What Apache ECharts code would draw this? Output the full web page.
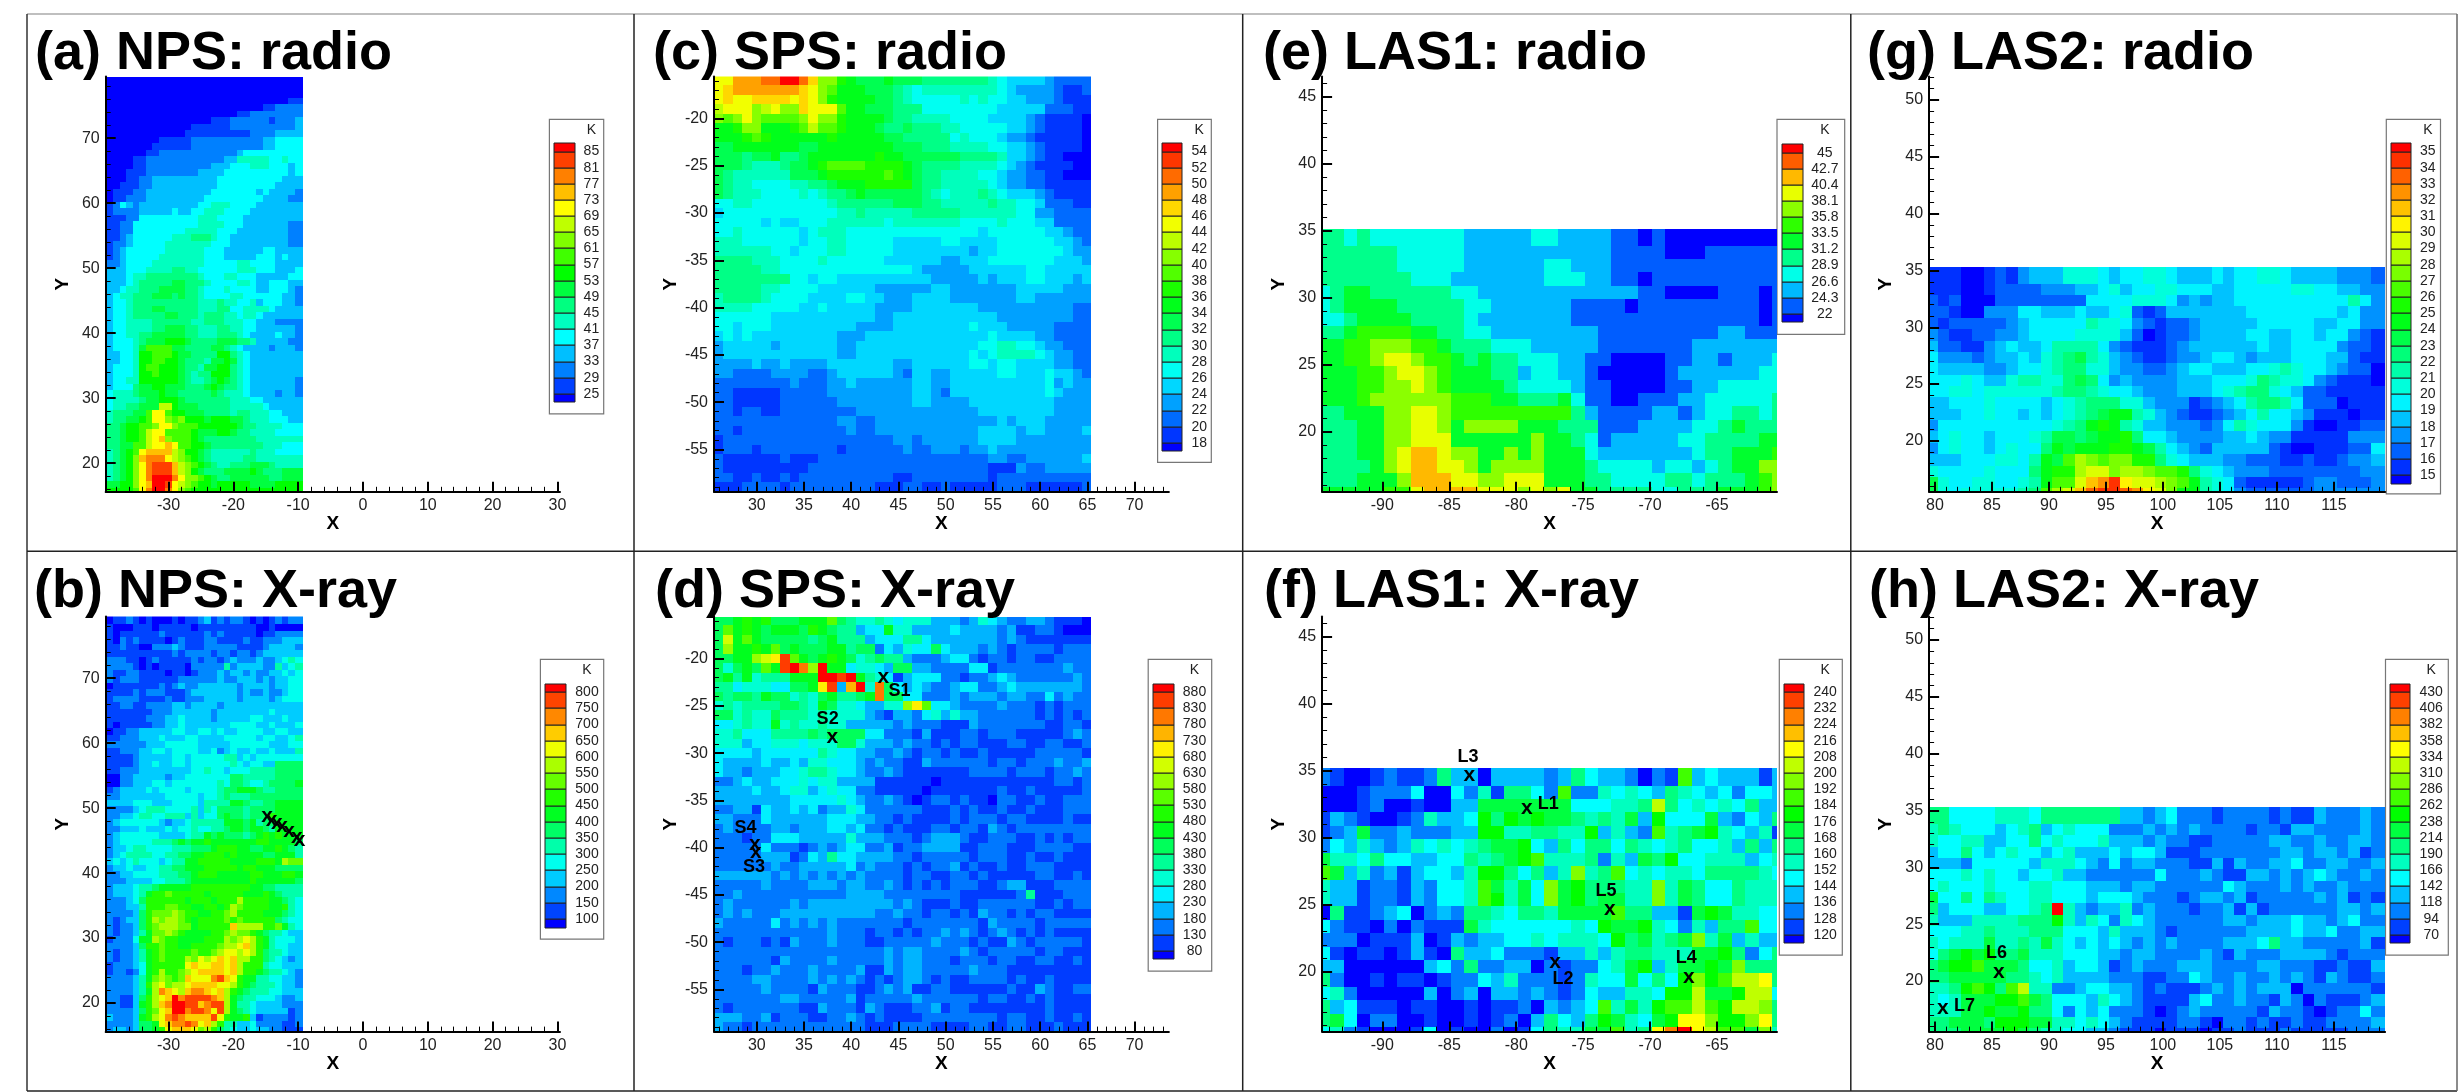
<!DOCTYPE html>
<html>
<head>
<meta charset="utf-8">
<title>NPS SPS LAS1 LAS2 radio and X-ray temperature maps</title>
<style>html,body{margin:0;padding:0;background:#fff}#chart{width:2458px;height:1092px}</style>
<script src="https://cdn.jsdelivr.net/npm/echarts@6/dist/echarts.min.js"></script>
</head>
<body>
<div id="chart"></div>
<script>
// legend levels (K), bottom to top
var levelsA = [25,29,33,37,41,45,49,53,57,61,65,69,73,77,81,85];
var levelsB = [100,150,200,250,300,350,400,450,500,550,600,650,700,750,800];
var levelsC = [18,20,22,24,26,28,30,32,34,36,38,40,42,44,46,48,50,52,54];
var levelsD = [80,130,180,230,280,330,380,430,480,530,580,630,680,730,780,830,880];
var levelsE = [22,24.3,26.6,28.9,31.2,33.5,35.8,38.1,40.4,42.7,45];
var levelsF = [120,128,136,144,152,160,168,176,184,192,200,208,216,224,232,240];
var levelsG = [15,16,17,18,19,20,21,22,23,24,25,26,27,28,29,30,31,32,33,34,35];
var levelsH = [70,94,118,142,166,190,214,238,262,286,310,334,358,382,406,430];

// tick labels
var ticksNpsX = [-30,-20,-10,0,10,20,30];
var ticksNpsY = [20,30,40,50,60,70];
var ticksSpsX = [30,35,40,45,50,55,60,65,70];
var ticksSpsY = [-55,-50,-45,-40,-35,-30,-25,-20];
var ticksLas1X = [-90,-85,-80,-75,-70,-65];
var ticksLas1Y = [20,25,30,35,40,45];
var ticksLas2X = [80,85,90,95,100,105,110,115];
var ticksLas2Y = [20,25,30,35,40,45,50];

// marked sources: [x, y]
var crossesB = [[-14.8,48.7],[-14.1,48.1],[-13.3,47.7],[-12.5,47.2],[-11.4,46.4],[-10.2,45.6],[-9.8,45]];
var crossesD = [[43.4,-22],[38,-28.3],[29.8,-39.6],[29.9,-40.45]];
var crossesF = [[-83.5,34.7],[-79.2,32.2],[-73,24.7],[-77.1,20.7],[-67.1,19.6]];
var crossesH = [[85.6,20.8],[80.7,17.6]];
var namesD = [['S1',45.1,-23.4],['S2',37.5,-26.4],['S4',28.8,-37.9],['S3',29.7,-42]];
var namesF = [['L3',-83.6,36],['L1',-77.6,32.5],['L5',-73.3,26],['L2',-76.5,19.5],['L4',-67.3,21]];
var namesH = [['L6',85.4,22.5],['L7',82.6,17.8]];

// band of each cell, top row first (0 = lowest band); spaces only for reading
var cellsA = [
'000000000000000000000000000000','000000000000000000000000000000','000000000000000000000000000000',
'000000000000000000000000000011','000000000000000000000000112222','000000000000000000001122222222',
'000000000000000011122222212223','000000000000011111122222222223','000000000000111111111122223333',
'000000001111122222222222334444','000000011111122222222222334444','000000112222222222223444444444',
'000011222222222222335555544544','000011222222222233344455544434','000111222222223333444444444434',
'000112233333333334444444444333','001112233333333334444444443333','011122333333333344444443433332',
'011222333333333444444444333322','124323333333334455544443333333','122223333343344555444433333333',
'111224444444445554444333333333','112244444444445555444333333322','112244444444555554443333333322',
'112344444455566654433333333322','122344444555555544433333333322','123444444555555444333333443333',
'123444445555555444333334443433','223444455555555444445544443333','333444555566554444445554443334',
'333455666666665444554443333344','333456666677666544445543344433','334556667777665444544443344432',
'345566677767665444455444444332','344566666666665556554453444332','344566677666665556644555543333',
'344566666776665666554554333333','344555566666655666555443332222','344555566777665556655443333332',
'344556677777665556665433334332','344456777888766667776653333322','344457999977666677654333323332',
'334458899987766668865433333333','334458899887666577875433333333','344458998887665778865433333333',
'344458898887656688865433333333','344558888887655678765433333332','344467788777666787665433333332',
'455567778776666676555433332332','455556778887666666655544333333','45566777bb87776666655555433333',
'566677 9cc98 8777666 656655544 33','566778 9cca9 a88878 887765 554443','667889 9acca 99988 88887 66555 54',
'667889 bcc99 99877 78876 65555 44','667889 bcda9 99876 66666 66555 55','667799 bccdc 99887 66666 66655 54',
'56789c ddddb a8876 55555 56555 44','5678ad eeecb a9876 55555 66555 55','5678ac efffd ba987 65566 67776 55',
'5678ac efffd ba876 66777 78766 67','5678ac eggge caa98 76677 77776 67','7788ac dggfc ba988 78888 87777 88','8888 9ceggec a9888 88888 88888 88888'
];
var cellsB = [
'011210100010112312122101012122','100011101111101111111110010000','101111112111111212111110112222',
'102121111012111221111211222333','112110022232111222221111233332','111111111121222212212212333333',
'222110121111121221232223223454','222210101111022222523333225345','211221111011012223233232233434',
'212221111112222223223332323344','011111112123223333332333323344','111121222111233333332322322344',
'122221111211222333332333323444','112211222233233332333333333333','111111122233333323333333343333',
'111111222334333323333344333433','101111122334333333344443343334','011223333344334434334444334433',
'112223334333443333444443443345','222222333444443333344444433344','112223344344443342343343343335',
'111123333344344444553434444444','111123343344344444454344336666','112223333333344544344455556666',
'002233333233444444466555556666','002233344344444445466544566667','123333434444344445667776556666',
'223333333444443445655566666666','333344433344443555577655667777','222234555444453546666566667777',
'223345544555353446766566687777','234444443233455555777675667777','223334333434454455677677657777',
'234444443333455767666567878777','234444455567677877777778877776','233455444455566678887766778765',
'234555544556677888787777667775','34345444345577888887777888 7a99','233433445566777888887887776666',
'223344445556678887777788777887','222333344555677777777787777776','23334 55677 77788 88888 88776 65555',
'23334 57889 88888 78888 87778 76555','22234 68888 88788 87888 a8888 77654',
'22233 58889 98877 8878a 98888 77854','22223 68999 a9887 7889a 88887 77654','21233 68a9a a9878 88898 98888 86544','21223 689aa a9978 8888c aaaa8 89754',
'21223 5799a 98777 7889a 99876 55433','12224 77a98 87777 888a9 aba87 54443','22223 68898 87788 889aa bca87 54433','21223 57898 88898 89abb aba86 55433',
'21223 57898 88a9b abcbc aa886 54323','12223 47888 88bcb bccbc a8885 44333','12212 478a8 89abc cccbc a8876 55432','22223 579a9 89cbb bdecb 87755 44332',
'22223 58ab9 aabcc ccbba 87655 54332','22223 57adc bacdd cbca8 76555 44333','22113 68abc fdeee edca7 65544 43223','22113 78acd ffeec deea7 55433 33222',
'22223 689bc ffdee dbea7 65433 33312','32223 78abd edccc ceb87 78312 22212','22223 667bc ddedb ca855 33422 22112','23323 6678b cccb9 a8654 33433 22111'
];
var cellsC = [
'eeggg hhjjh fcca9 88898 88777 77776 54444 32222','efggg ggggf ecb99 98887 65666 66666 54333 32112','efeef fffef eca99 99887 65555 56565 54433 32111',
'deeec deccf eeeb9 98887 77555 55555 44444 22211','cbcec bbbbc ecca9 99987 76666 55554 44432 11110','99acc 999ab dbba9 99877 87776 65555 54432 11110',
'999ab a9999 99a99 99988 77777 56555 43321 11110','88999 99998 89999 99998 88777 66665 54432 11110','88878 89778 99999 99a99 88888 87777 64432 11000',
'88876 66788 9abbb baaaa 98777 76666 54321 11100','87666 66688 89aaa aaaba 98776 66655 43322 11000','87665 55566 77899 9aaaa a8776 66665 43322 11111',
'87666 55556 56778 98888 88765 66676 54443 21111','55665 55555 55677 77778 88776 66667 66554 22211','45555 55555 55566 76666 67777 76666 66553 32222',
'55555 45445 55666 66656 66666 65555 65554 42222','55655 55554 56665 55555 55555 55545 55555 44322','66655 55554 55665 55554 44445 54444 55555 54432',
'66666 65545 55665 55554 44444 44344 55555 55433','77776 66555 56555 55544 44443 34445 55555 54443','77777 66555 55555 55555 54333 33444 44455 44444',
'77777 77755 45544 44444 44433 33343 44455 44434','77777 66555 54444 44333 33344 33333 33444 44333','67777 65555 44445 54433 34444 33333 33443 33333',
'66665 55554 45444 44333 34444 44433 33333 33322','55555 54444 44444 44334 44444 44444 33333 33322','55455 54444 44444 33334 44444 44544 43333 32222',
'45454 44444 44433 34444 44444 44445 44443 32222','34444 43444 44433 44444 44444 44455 66554 33222','34444 44444 44433 44444 44444 44545 66665 43322',
'33334 33433 33444 44443 34444 44554 55444 43322','33222 23333 22344 44443 24433 44444 55444 54432','22222 22232 22334 33333 34433 44444 44444 53433',
'22111 11222 22333 33333 34432 44444 44444 54333','22111 11222 22233 33333 34433 33444 44444 43333','22122 11222 22222 33333 33333 33344 44444 43333',
'22222 22222 22233 22333 33333 33333 43444 33333','22122 22222 22223 22333 33333 33344 44344 33334','12222 22222 22222 22223 32333 33344 44333 33333',
'12221 22222 22212 22222 32233 32334 33333 33333','21111 11211 12222 22222 22222 22223 32233 33334','21111 11111 22222 22222 22222 22221 11322 33333',
'22112 11212 22222 22221 12222 22221 22222 22222','11122 22122 22222 22111 22112 11111 22211 11112'
];
var cellsD = [
'7 7 8 9 8 9 7 7 7 8 8 8 a 7 6 5 5 6 5 4 5 5 5 3 3 3 2 3 5 4 3 2 2 3 3 2 1 1 1 0','7 a 8 9 8 7 8 8 8 7 9 8 7 6 6 3 4 4 8 5 5 3 3 3 3 4 3 3 3 3 2 3 1 1 2 2 1 0 0 0',
'7 c 8 a 8 7 7 7 7 7 6 7 8 6 6 6 3 4 4 4 6 6 4 3 3 3 3 3 3 3 2 3 2 1 1 1 1 1 1 1','7 b 8 8 9 8 a 7 8 7 7 7 8 8 6 7 7 2 4 3 5 4 4 7 4 3 3 3 2 3 2 1 2 2 2 2 1 2 2 2',
'7 7 8 8 b c d g a 8 7 8 9 8 7 5 6 7 6 6 3 2 2 2 3 4 4 2 1 2 2 1 2 2 1 1 2 2 2 2','7 5 7 8 7 a 8 g h f b h 8 8 4 5 5 4 3 7 7 3 3 2 2 2 2 4 4 1 2 2 2 2 2 2 2 3 2 2',
'7 8 6 8 5 6 6 6 8 8 8 h h g h 8 6 5 4 1 3 4 4 4 2 2 1 2 2 3 4 3 2 2 2 2 2 2 3 2','6 6 4 5 5 5 4 4 7 7 8 d g 3 e h 5 f 7 4 3 4 3 2 2 3 4 4 2 2 3 4 3 3 3 3 3 3 3 2',
'7 6 7 7 6 8 7 7 5 6 5 7 8 6 6 7 8 f 7 7 4 4 2 2 2 3 2 3 3 3 2 3 3 2 2 4 2 3 2 2','5 6 5 6 6 6 6 7 7 6 5 8 7 5 5 4 3 3 5 5 b d a 4 4 3 2 2 2 2 3 2 2 2 1 2 1 2 2 2',
'7 7 5 6 5 5 7 6 6 6 5 6 5 5 5 5 3 2 1 3 3 2 4 5 3 5 3 3 2 2 2 2 2 2 1 2 1 2 1 2','4 4 5 6 5 5 8 5 6 5 5 6 5 5 3 3 3 3 3 2 3 2 2 2 1 1 1 3 2 2 2 2 2 2 2 1 1 2 2 1',
'5 5 6 4 4 4 6 6 6 6 7 6 7 7 7 7 4 4 2 2 2 1 3 1 1 1 2 2 1 2 2 2 1 1 1 1 1 2 3 2','5 5 5 3 4 4 5 5 5 4 5 5 5 7 7 5 3 3 3 2 3 2 2 1 2 1 2 2 1 1 1 2 2 1 1 2 2 1 1 2',
'4 4 4 4 3 4 4 4 4 4 4 6 5 4 4 3 3 2 2 3 2 1 2 2 1 2 1 1 2 1 1 1 1 1 2 2 2 2 2 1','4 3 3 3 3 4 3 3 4 3 5 5 4 4 4 3 2 3 2 2 1 1 3 2 2 2 2 2 2 1 2 2 1 2 2 2 3 2 2 3',
'4 3 3 2 3 3 3 4 4 5 6 6 5 4 4 3 2 2 3 2 1 1 1 1 1 1 1 2 2 2 2 1 2 2 2 1 2 2 3 2','2 2 3 4 3 3 4 4 4 5 4 5 5 3 3 3 3 1 1 1 1 1 1 0 1 1 1 1 1 1 1 1 1 1 1 1 2 2 1 2',
'3 3 3 3 4 3 3 4 5 5 3 4 5 4 4 2 2 1 1 1 1 1 0 1 1 1 1 1 1 1 2 1 1 2 1 1 1 1 1 2','3 3 3 3 3 3 3 3 4 4 4 4 4 5 4 3 2 2 3 2 1 0 1 2 2 1 2 1 1 0 2 2 1 1 2 1 1 2 2 2',
'2 2 3 3 1 4 3 3 4 3 4 2 3 3 5 4 2 2 2 2 2 2 1 1 1 2 1 2 1 1 2 1 1 2 1 1 1 2 2 2','3 3 2 2 2 4 3 3 3 3 3 3 4 4 4 3 3 2 2 1 2 1 1 1 1 2 1 2 2 2 1 2 2 1 1 1 1 2 1 1',
'2 3 2 2 2 2 3 3 2 3 3 3 4 4 3 4 2 2 1 2 1 1 1 2 2 1 2 2 1 3 2 1 2 2 2 2 2 2 2 2','2 2 2 1 2 2 4 4 4 3 3 3 3 3 5 3 3 3 2 2 2 1 2 3 3 3 2 1 1 2 2 2 1 1 2 1 2 1 2 2',
'2 2 2 2 2 4 2 2 2 1 2 3 2 3 4 4 2 2 3 1 2 2 3 3 3 3 1 1 2 2 2 1 1 1 2 2 2 2 1 1','2 2 2 2 2 3 3 3 1 2 4 3 6 4 4 3 3 3 3 2 2 1 2 2 2 2 2 1 2 2 2 1 1 2 1 1 2 1 1 1',
'2 2 2 2 2 2 3 2 2 3 3 3 3 3 4 2 3 2 2 2 1 2 1 2 2 3 1 2 1 1 2 1 1 2 2 2 1 1 1 1','3 3 3 3 3 3 2 3 2 3 2 3 2 3 2 3 2 2 2 2 1 2 2 1 1 2 2 1 2 1 1 1 1 1 2 2 1 1 2 1',
'2 2 2 2 2 3 2 2 2 2 3 3 3 2 3 3 2 2 3 2 1 2 1 2 1 2 2 2 1 1 2 3 3 1 1 1 2 2 2 2','2 2 3 2 2 2 2 2 2 2 2 2 2 2 3 3 3 3 2 2 2 2 2 2 2 2 1 1 1 1 1 1 2 6 1 1 1 2 2 2',
'2 3 2 2 2 2 2 2 3 2 3 3 3 3 3 3 3 3 3 2 3 2 1 1 1 2 1 1 2 2 2 2 2 2 1 1 2 1 2 2','2 3 2 3 2 2 2 3 3 3 3 3 3 3 3 3 3 2 2 3 2 2 1 2 2 1 2 1 3 2 2 1 2 1 2 2 1 1 1 1',
'3 2 2 2 2 2 4 2 3 2 3 2 3 2 2 2 2 2 2 2 1 2 2 2 2 2 2 2 1 3 2 2 2 2 1 2 2 2 2 2','2 2 2 2 2 2 2 2 2 2 2 2 3 2 2 2 1 2 2 1 2 1 2 2 3 2 3 2 1 2 3 2 1 2 1 2 1 1 1 1',
'2 1 2 2 2 1 2 1 3 2 2 2 3 2 2 2 1 1 2 2 2 2 2 3 2 2 2 1 2 1 1 3 2 1 2 2 2 2 2 1','2 2 2 2 2 2 2 2 2 2 2 2 2 2 2 2 2 2 3 2 3 3 2 2 2 2 3 2 1 2 2 2 2 2 1 2 2 1 1 1',
'2 2 2 2 2 2 1 3 2 2 2 2 3 2 2 2 2 2 3 2 3 3 2 2 2 1 2 2 2 1 2 2 1 1 2 2 1 1 2 1','2 2 2 1 2 2 3 2 2 2 3 2 2 2 2 3 1 1 3 2 3 3 2 2 2 2 2 3 2 2 2 1 1 1 1 1 1 1 1 1',
'2 2 2 2 3 3 2 2 2 2 3 2 3 2 3 2 1 2 1 2 3 3 2 1 2 1 1 2 2 2 2 1 2 1 1 2 1 1 1 1','2 2 2 2 2 3 2 2 2 2 1 3 2 2 2 1 1 2 3 2 3 1 1 2 2 1 1 1 1 1 1 2 1 1 3 2 1 1 2 2',
'2 2 2 2 2 2 2 3 3 2 2 2 2 2 3 1 2 2 2 2 2 3 2 2 2 2 2 2 1 2 2 1 1 2 1 2 1 1 1 1','2 1 2 2 2 2 2 2 2 1 1 3 2 2 2 1 3 2 1 1 1 2 2 3 1 2 2 1 1 1 1 1 1 1 1 2 1 1 1 1',
'3 3 3 2 2 3 1 2 2 2 1 1 2 2 3 2 1 2 1 1 1 1 2 2 2 2 2 2 2 2 1 2 2 1 1 2 1 1 2 1','3 2 2 1 2 2 2 2 2 2 2 2 2 2 2 2 1 1 1 2 2 2 2 1 1 1 1 2 2 1 1 2 2 1 1 1 2 1 1 1'
];
var cellsE = [
'44343333333222223322221101000000000','44444433333222222222221111000111111','44444433333222222332221111111111111',
'44444443332222222333221101111111111','34554444443322222222222211000011101','34555544444332222221111011111111101',
'33455554444322222221111111111111101','44566665544332222222211111111122111','55 66 777 66 5 444 333 22222 1111111 2222222',
'55 66 7 88 7 66 5 4 5 44 333 22 11 0000 11 22 1 222 3','555 66 7 88 7 6 555 44 2 33 22 1 00000 1 222222 33','55566778765555433332110000112233333',
'555 6 777777 666 55 444 5 3 11 00 111 22 33333 4','44 55 5 77 88 7 666666666 4 2 1111 22 1 2 33 44 3 4','44455778875777755544411122223345444',
'444 55 77 888 555555 7 5 5 4 3 1 22222 33 4444 55','444 55 7 8 99 8 77 55 7 5 7 5 55 3 2222222 3 44 555 6','4444 5 7 8 99 88 7 5 7777 5 55 4 3333 2 33 2 3 4 55 77',
'444 55 5 7 999 88 77 888 5 55 44 3333 44 3 4445 6 77','55555 66 8 9999 888 7 8 7 8 55 4444 33 444 555 6 77'
];
var cellsF = [
'21001 21126 33033 33236 43320 21934 33313','00012 22400 42516 64292 25454 36543 42443','00012 00100 33777 77774 44556 b6454 54633',
'13210 01253 34868 78776 56573 84447 32436','12372 23222 33885 56655 83532 95678 54351','24353 23545 45677 84364 66465 45644 53636',
'75546 44334 46567 89555 62537 68445 55345','97352 31344 35886 4635a 56945 45546 66654','53312 21324 45975 74a78 66655 a5764 46555',
'5 3 3 1 2 2 1 3 2 4 4 5 9 8 5 7 4 a 7 8 6 7 7 5 5 a 5 7 6 4 4 6 5 5 5','0 6 1 1 2 3 4 0 2 3 2 6 6 5 4 6 6 5 7 7 7 7 9 6 6 3 3 1 7 8 7 5 5 4 4','4 2 1 1 0 2 0 2 1 1 1 7 5 4 4 4 4 4 4 5 4 8 7 7 8 5 4 2 5 3 6 6 9 4 4',
'2 2 2 0 1 1 1 3 0 1 3 2 3 3 4 4 5 4 5 5 5 4 8 6 7 5 6 7 a 5 7 3 5 3 3','4 1 0 1 1 0 1 3 1 0 6 3 3 4 2 2 2 1 3 3 5 3 5 6 6 5 5 5 7 7 8 6 2 4 6','3 3 0 0 0 0 0 0 3 4 2 6 2 2 3 3 0 2 1 2 2 4 5 7 8 3 5 7 7 8 7 a 6 6 6',
'6 2 0 0 1 0 1 1 0 1 2 2 4 3 5 2 2 2 1 2 5 4 4 7 4 6 4 8 a 8 9 b b c 6','4 5 2 0 0 0 0 0 3 0 2 3 0 3 3 2 3 2 1 2 4 3 3 5 5 4 8 8 b 7 7 8 b b 4','6 3 4 1 1 1 0 1 1 0 0 1 0 1 1 2 0 3 2 3 4 9 5 7 5 8 9 9 b 9 8 b b a 6',
'6 7 4 0 2 2 0 0 1 0 0 1 0 1 2 0 3 6 4 3 6 8 7 5 4 7 8 c c a 8 8 a c 6','4 5 2 1 0 0 0 1 4 0 1 0 0 2 0 1 4 6 5 5 7 7 9 5 6 c e g c b 9 9 7 a 5'
];
var cellsG = [
'111 00 1 2 1 3 444 666 5 4 55 66 5 444 5 4 55 66 5 4444 333 2','1 1 1 0 0 1 2 2 2 2 3 3 3 4 4 5 6 4 5 5 6 6 5 5 5 4 4 5 5 5 5 5 6 6 5 5 4 4 3 3','2 1 2 0 0 0 2 2 2 2 2 2 2 2 5 5 5 5 6 6 6 5 3 4 3 4 4 5 5 5 5 5 5 5 5 5 5 7 5 3',
'2 2 1 0 0 3 3 3 5 5 4 4 4 5 4 4 5 6 2 1 2 4 4 4 4 4 4 4 5 5 5 5 5 5 5 5 4 5 3 3','2 1 2 2 2 2 2 3 4 5 5 5 5 5 7 6 6 5 3 2 1 2 2 3 4 4 4 4 4 5 5 5 5 5 4 4 5 5 3 3','3 2 1 1 2 2 3 3 4 5 5 5 5 6 6 6 6 4 2 0 1 2 2 3 4 4 4 4 5 5 4 4 5 5 4 5 5 3 2 1',
'4 2 2 1 1 3 4 5 4 4 5 7 7 7 7 5 3 2 1 1 1 2 3 4 4 4 4 4 4 5 4 4 5 5 5 5 3 2 2 1','5 3 3 3 2 3 4 4 5 4 6 7 8 9 7 6 4 3 2 1 1 2 3 3 4 5 5 4 3 4 4 4 5 5 5 4 4 2 1 1','5 4 4 4 4 3 3 4 5 5 6 7 8 8 6 6 4 3 3 2 2 3 4 5 5 4 4 4 5 5 6 7 6 5 5 4 3 2 2 0',
'5 5 5 6 5 4 4 6 7 7 6 6 8 9 8 5 3 4 3 3 3 3 4 4 4 5 5 5 6 8 7 6 6 5 3 2 1 1 1 0','5 5 6 6 5 6 6 6 6 6 6 7 8 8 7 6 5 5 4 3 3 3 4 4 4 5 6 7 8 8 6 5 4 2 2 1 1 1 1 1','4 4 5 5 5 6 5 5 5 5 4 5 6 7 8 8 8 6 6 4 3 3 3 1 2 3 4 5 7 8 8 7 5 2 2 2 0 1 1 1',
'4 4 4 5 5 6 5 5 4 5 4 5 6 7 8 9 a a 7 6 4 3 2 1 1 2 3 4 5 7 5 5 4 3 1 1 1 0 1 1','3 5 5 5 5 5 5 5 5 5 5 6 7 8 a b a 7 6 4 4 3 3 3 2 3 5 7 6 5 5 5 3 1 0 0 1 1 2 2','4 5 6 5 5 4 5 5 5 6 7 9 9 8 9 a a b 8 5 5 4 3 3 3 3 4 4 5 4 3 3 1 1 1 1 1 3 3 3',
'3 5 6 5 5 4 5 6 5 5 8 a 9 a a a b b a 9 7 5 4 3 2 4 4 4 4 4 2 1 0 0 1 1 1 2 2 5','4 4 4 5 5 5 6 6 5 7 a 9 c e d c d d b b 8 6 5 4 4 4 3 3 2 2 2 1 1 2 1 1 2 3 3 4','6 5 5 5 5 6 5 5 5 8 a b b e f f d e e d c c b 8 6 5 4 3 3 3 2 2 2 2 2 2 2 2 3 3',
'9 6 5 5 6 6 5 5 6 7 a c c f h i k g f f e d c a 7 6 5 2 1 1 1 1 1 2 3 3 2 2 2 3','9 6 5 6 6 6 6 6 7 8 c e f h j k k j i g f d a a 7 6 5 3 2 2 2 2 2 2 3 3 3 3 3 3'
];
var cellsH = [
'6 6 4 4 4 4 5 5 5 4 6 6 6 6 6 6 6 3 3 2 3 4 2 2 2 1 2 2 2 2 1 2 1 1 3 2 2 2 3 2','5 6 5 4 4 4 3 4 5 6 3 4 5 4 4 4 2 2 2 3 2 3 2 3 2 2 2 2 1 2 2 1 3 3 2 2 2 2 3 2',
'5 4 4 5 5 3 3 4 4 6 4 5 4 4 4 5 3 3 3 2 3 2 2 1 1 2 2 2 2 2 3 3 2 2 3 2 2 3 3 2','3 4 4 6 4 3 4 5 4 4 3 4 5 3 3 3 4 3 4 4 3 1 1 1 2 2 2 2 2 2 2 3 3 2 3 3 2 3 1 2',
'3 3 3 2 4 4 4 4 4 3 5 5 5 4 3 2 4 2 3 3 2 2 2 1 1 3 1 3 2 2 3 3 4 2 2 3 3 2 2 3','4 4 4 5 4 5 4 4 3 4 4 5 3 3 2 2 2 2 2 2 4 2 2 2 3 2 1 1 3 3 2 3 2 3 4 3 2 2 3 2',
'4 5 4 4 4 5 4 4 4 5 5 4 4 4 3 3 3 2 3 3 2 2 2 2 2 2 4 3 2 2 2 3 2 3 2 2 3 2 2 2','7 4 4 6 4 6 5 4 4 5 5 4 4 4 3 4 4 4 3 2 2 2 1 2 3 3 2 3 1 2 2 2 2 2 3 2 3 1 2 1',
'6 3 4 4 4 3 3 4 4 5 6 g 5 3 2 3 3 5 2 3 2 2 2 1 2 2 3 1 3 1 2 2 2 2 2 2 3 3 2 3','5 3 3 3 5 5 5 5 6 6 6 8 5 3 5 4 2 5 4 3 2 2 2 2 2 2 3 3 2 3 3 3 4 3 3 2 3 4 2 2',
'4 4 4 5 5 6 5 5 5 6 6 6 4 4 4 3 5 3 3 3 2 1 2 2 2 2 2 2 3 3 3 3 4 3 3 4 2 2 3 3','5 4 5 5 5 7 5 5 6 5 7 5 4 3 4 3 4 3 2 3 2 3 2 2 2 2 3 3 3 4 6 3 3 2 2 2 2 2 3 1',
'4 6 7 8 7 8 6 6 7 5 5 5 4 4 4 3 3 2 3 3 2 2 2 2 3 2 1 3 2 2 2 3 3 3 3 2 1 2 2 2','6 7 8 8 9 7 7 7 6 4 4 5 3 4 4 3 1 2 3 2 2 2 3 3 3 2 2 2 2 3 3 2 2 2 1 1 2 1 1 3',
'6 6 7 7 7 7 7 6 6 5 4 5 3 3 3 3 2 2 2 1 1 2 2 4 3 2 2 3 2 2 3 2 3 2 1 3 2 1 1 2','5 5 6 8 9 8 6 9 b 5 5 2 2 3 4 4 3 3 2 1 2 1 1 1 2 3 2 3 2 3 3 3 0 2 2 2 2 2 2 1',
'5 4 5 7 7 7 8 8 9 7 6 4 4 4 3 5 4 3 2 1 1 1 1 3 4 2 2 3 2 2 1 3 2 0 2 1 1 1 2 3','5 5 5 7 7 8 7 7 8 6 6 4 2 4 3 4 2 2 2 1 0 1 2 3 2 2 2 2 2 1 3 2 2 1 0 1 2 2 4 2',
'6 6 7 7 7 6 8 8 8 7 7 5 5 4 5 4 3 2 1 1 1 1 2 2 1 0 2 2 1 2 1 1 2 1 1 2 2 2 2 3','6 6 6 7 7 7 7 8 7 6 5 5 4 4 3 3 2 1 1 1 0 1 1 1 0 1 1 2 1 1 1 2 1 1 1 1 1 2 2 2'
];

var bandStops = [[0,0,0,255],[0.25,0,255,255],[0.5,0,255,0],[0.75,255,255,0],[1,255,0,0]];
var bandChars = '0123456789abcdefghijkl';

// 每个面板的位置和坐标范围
var panels = [
 {title:'(a) NPS: radio',titleX:35,titleY:27,left:105.7,top:76.5,width:454.3,height:415.3,xMin:-39.7,xMax:30.4,yMin:15.6,yMax:79.5,xEdge:-38.5,yEdge:16.22,right:-9.3,ceil:79.5,cols:30,cells:cellsA,levels:levelsA,xTicks:ticksNpsX,yTicks:ticksNpsY,xMinor:2,yMinor:2,legend:[549.4,119.3,603.7,413.9,553.5,143.1,574.7,402,151.5,393.9,591.4]},
 {title:'(b) NPS: X-ray',titleX:34,titleY:565,left:105.7,top:616.5,width:454.3,height:415.1,xMin:-39.7,xMax:30.4,yMin:15.6,yMax:79.5,xEdge:-38.5,yEdge:16.3,right:-9.3,ceil:79.5,cols:30,cells:cellsB,levels:levelsB,xTicks:ticksNpsX,yTicks:ticksNpsY,xMinor:2,yMinor:2,crosses:crossesB,legend:[540.4,659.4,603.7,939.1,545.3,684.2,565.7,927.6,692.2,918.9,587]},
 {title:'(c) SPS: radio',titleX:653,titleY:27,left:714,top:76.5,width:454.9,height:415.3,xMin:25.47,xMax:73.63,yMin:-59.49,yMax:-15.55,xEdge:26.47,yEdge:-58.49,right:65.35,ceil:-15.55,cols:40,cells:cellsC,levels:levelsC,xTicks:ticksSpsX,yTicks:ticksSpsY,xMinor:1,yMinor:1,legend:[1157.6,119.3,1211.3,462.3,1161.5,143.1,1182,451,151.5,443,1199.2]},
 {title:'(d) SPS: X-ray',titleX:655,titleY:565,left:714,top:616.5,width:454.9,height:415.1,xMin:25.47,xMax:73.63,yMin:-59.47,yMax:-15.53,xEdge:26.47,yEdge:-58.47,right:65.35,ceil:-15.53,cols:40,cells:cellsD,levels:levelsD,xTicks:ticksSpsX,yTicks:ticksSpsY,xMinor:1,yMinor:1,crosses:crossesD,names:namesD,legend:[1148.2,659.4,1211.7,971.2,1153.3,684.2,1173.5,959.4,692.2,951,1194.5]},
 {title:'(e) LAS1: radio',titleX:1263,titleY:27,left:1322.1,top:76.5,width:454.9,height:415.3,xMin:-94.5,xMax:-60.52,yMin:15.52,yMax:46.5,xEdge:-93.89,yEdge:15.89,right:-60.52,ceil:35.1,cols:35,cells:cellsE,levels:levelsE,xTicks:ticksLas1X,yTicks:ticksLas1Y,xMinor:1,yMinor:1,legend:[1777,119.3,1844.7,334.3,1782.4,144.2,1802.6,322.3,152.9,313.9,1824.8]},
 {title:'(f) LAS1: X-ray',titleX:1264,titleY:565,left:1322.1,top:616.5,width:454.9,height:415.1,xMin:-94.5,xMax:-60.52,yMin:15.55,yMax:46.5,xEdge:-93.89,yEdge:15.89,right:-60.52,ceil:35.2,cols:35,cells:cellsF,levels:levelsF,xTicks:ticksLas1X,yTicks:ticksLas1Y,xMinor:1,yMinor:1,crosses:crossesF,names:namesF,legend:[1779.3,659.4,1842.3,955.2,1784,684.2,1804.2,942.6,692.2,935,1825.2]},
 {title:'(g) LAS2: radio',titleX:1867,titleY:27,left:1929.1,top:76.5,width:456,height:415.3,xMin:79.49,xMax:119.49,yMin:15.52,yMax:52.07,xEdge:80.27,yEdge:15.83,right:119.49,ceil:35.28,cols:40,cells:cellsG,levels:levelsG,xTicks:ticksLas2X,yTicks:ticksLas2Y,xMinor:1,yMinor:1,legend:[2386.3,119.3,2440.5,493.9,2390.5,143.1,2411,483.7,151.5,475.3,2427.8]},
 {title:'(h) LAS2: X-ray',titleX:1869,titleY:565,left:1929.1,top:616.5,width:456,height:415.1,xMin:79.49,xMax:119.49,yMin:15.55,yMax:52.07,xEdge:80.27,yEdge:15.83,right:119.49,ceil:35.28,cols:40,cells:cellsH,levels:levelsH,xTicks:ticksLas2X,yTicks:ticksLas2Y,xMinor:1,yMinor:1,crosses:crossesH,names:namesH,legend:[2385.5,659.4,2448.3,955.2,2389.8,684.2,2410,942.6,692.2,935,2431.2]}
];

var FONT = '"Liberation Sans",Arial,sans-serif';

//色带:蓝-青-绿-黄-红
var bandColor = function(i, count){
	var t = count > 1 ? i/(count - 1) : 0;
	for(var s = 1; s < bandStops.length; s++){
		if(t <= bandStops[s][0] + 1e-9){
			var a = bandStops[s-1], b = bandStops[s];
			var f = (t - a[0])/(b[0] - a[0]);
			return 'rgb(' + Math.round(a[1] + (b[1]-a[1])*f) + ',' + Math.round(a[2] + (b[2]-a[2])*f) + ',' + Math.round(a[3] + (b[3]-a[3])*f) + ')';
		}
	}
	return 'rgb(255,0,0)';
};

var minorTicks = function(lo, hi, step){
	var out = [];
	for(var v = Math.ceil(lo/step)*step; v <= hi; v += step){ out.push(v); }
	return out;
};

// band letter -> kelvin in the middle of that band
var bandValue = function(levels, band){
	var step = levels[1] - levels[0];
	return levels[0] + (band - 0.5)*step;
};

var bandOf = function(levels, v){
	var step = levels[1] - levels[0];
	return Math.max(0, Math.min(levels.length, Math.round((v - levels[0])/step + 0.5)));
};

// 每个格子的范围: 第一行/列被坐标轴截断, 最后一行/列到数据边界
var buildCells = function(p){
	var out = [], rows = p.cells, n = rows.length, m = p.cols;
	for(var j = 0; j < n; j++){
		var row = rows[j].replace(/ /g, '');
		var jb = n - 1 - j;
		var y0 = jb === 0 ? p.yMin : p.yEdge + jb - 1;
		var y1 = jb === n - 1 ? p.ceil : p.yEdge + jb;
		for(var k = 0; k < m; k++){
			var ch = row.charAt(k) || row.charAt(row.length - 1);
			var x0 = k === 0 ? p.xMin : p.xEdge + k - 1;
			var x1 = k === m - 1 ? p.right : p.xEdge + k;
			out.push([x0, x1, y0, y1, bandValue(p.levels, bandChars.indexOf(ch))]);
		}
	}
	return out;
};

var rectItem = function(api, color, stroke){
	var a = api.coord([api.value(0), api.value(3)]);
	var b = api.coord([api.value(1), api.value(2)]);
	var x = Math.round(a[0]), y = Math.round(a[1]);
	var style = {fill:color};
	if(stroke){ style.stroke = stroke; style.lineWidth = 1; }
	return {type:'rect', shape:{x:x, y:y, width:Math.round(b[0]) - x, height:Math.round(b[1]) - y}, style:style, silent:true};
};

var axisFor = function(idx, kind, p, ticks, minor){
	var isX = kind === 'x';
	var base = {
		type:'value', gridIndex:idx, position:isX ? 'bottom' : 'left', z:6, silent:true,
		min:isX ? p.xMin : p.yMin, max:isX ? p.xMax : p.yMax, splitLine:{show:false}
	};
	var major = Object.assign({}, base, {
		name:isX ? 'X' : 'Y', nameLocation:'center', nameGap:isX ? 28 : 43,
		nameTextStyle:{fontFamily:FONT, fontSize:19, fontWeight:'bold', color:'#000', verticalAlign:'middle'},
		axisLine:{show:true, onZero:false, lineStyle:{color:'#000', width:2}},
		axisTick:{show:true, inside:true, length:10, customValues:ticks, lineStyle:{color:'#000', width:2}},
		axisLabel:{show:true, customValues:ticks, margin:6, fontFamily:FONT, fontSize:16, color:'#222', hideOverlap:false}
	});
	var small = Object.assign({}, base, {
		axisLine:{show:false, onZero:false},
		axisTick:{show:true, inside:true, length:5, customValues:minor, lineStyle:{color:'#000', width:1}},
		axisLabel:{show:false}
	});
	return [major, small];
};

var option = {
	animation:false, backgroundColor:'#fff',
	title:[], grid:[], xAxis:[], yAxis:[], series:[], graphic:[]
};

var pushLine = function(x1, y1, x2, y2, color){
	option.graphic.push({type:'line', z:1, silent:true, shape:{x1:x1, y1:y1, x2:x2, y2:y2}, style:{stroke:color, lineWidth:1.5}});
};
pushLine(27,14,2457,14,'#aaa');
pushLine(27,14,27,1091,'#333');
pushLine(27,551.3,2457,551.3,'#222');
pushLine(27,1091,2457,1091,'#222');
pushLine(634,14,634,1091,'#222');
pushLine(1242.7,14,1242.7,1091,'#222');
pushLine(1850.8,14,1850.8,1091,'#222');
pushLine(2457,14,2457,1091,'#666');

// 隐藏符号,只显示文字
var textPoints = function(xi, yi, data, formatter, size){
	return {
		type:'scatter', xAxisIndex:xi, yAxisIndex:yi, silent:true, z:7, data:data,
		symbol:'circle', symbolSize:1, itemStyle:{opacity:0},
		labelLayout:{hideOverlap:false},
		label:{show:true, position:'inside', formatter:formatter, fontFamily:FONT, fontSize:size, fontWeight:'bold', color:'#000', opacity:1}
	};
};

panels.forEach(function(p, i){
	var g = option.grid.length;
	option.title.push({text:p.title, left:p.titleX, top:p.titleY, padding:0, z:8,
		textStyle:{fontFamily:FONT, fontSize:54, fontWeight:'bold', color:'#000'}});
	option.grid.push({left:p.left, top:p.top, width:p.width, height:p.height, show:false});
	var xMinor = minorTicks(p.xMin, p.xMax, p.xMinor), yMinor = minorTicks(p.yMin, p.yMax, p.yMinor);
	var xa = axisFor(g, 'x', p, p.xTicks, xMinor), ya = axisFor(g, 'y', p, p.yTicks, yMinor);
	var xi = option.xAxis.length, yi = option.yAxis.length;
	option.xAxis.push(xa[0], xa[1]);
	option.yAxis.push(ya[0], ya[1]);
	var count = p.levels.length + 1;
	option.series.push({
		type:'custom', xAxisIndex:xi, yAxisIndex:yi, clip:true, silent:true, z:2,
		encode:{x:[0,1], y:[2,3]}, data:buildCells(p),
		renderItem:function(params, api){
			return rectItem(api, bandColor(bandOf(p.levels, api.value(4)), count));
		}
	});
	if(p.crosses){
		option.series.push(textPoints(xi, yi, p.crosses, 'x', 21));
	}
	if(p.names){
		option.series.push(textPoints(xi, yi, p.names.map(function(n){ return {name:n[0], value:[n[1], n[2]]}; }), '{b}', 18));
	}

	// 图例
	var L = p.legend;
	option.graphic.push({type:'rect', z:1, silent:true, shape:{x:L[0], y:L[1], width:L[2]-L[0], height:L[3]-L[1]}, style:{fill:'#fff', stroke:'#777', lineWidth:1.2}});
	option.graphic.push({type:'text', z:1, silent:true, x:L[10], y:L[1]+11, style:{text:'K', font:'14px ' + FONT, fill:'#222', textAlign:'center', textVerticalAlign:'middle'}});
	var lg = option.grid.length;
	option.grid.push({left:L[4], top:L[5], width:L[6]-L[4], height:L[7]-L[5], show:false});
	var lvMin = p.levels[0], lvMax = p.levels[p.levels.length-1];
	var spanPer = (lvMax - lvMin)/(L[9] - L[8]);
	var bottom = lvMin - (L[7] - L[9])*spanPer, top = lvMax + (L[8] - L[5])*spanPer;
	var lx = option.xAxis.length, ly = option.yAxis.length;
	option.xAxis.push({type:'value', gridIndex:lg, min:0, max:1, show:false});
	option.yAxis.push({
		type:'value', gridIndex:lg, position:'right', min:bottom, max:top, z:6, silent:true,
		splitLine:{show:false},
		axisLine:{show:false, onZero:false},
		axisTick:{show:false},
		axisLabel:{show:true, customValues:p.levels, margin:L[10]-L[6], align:'center', padding:[6,0,0,0],
			fontFamily:FONT, fontSize:14, color:'#222', hideOverlap:false,
			formatter:function(v){ return String(Math.round(v*10)/10); }}
	});
	var bands = [];
	for(var b = 0; b < count; b++){
		bands.push([0, 1, b === 0 ? bottom : p.levels[b-1], b === count - 1 ? top : p.levels[b], b]);
	}
	option.series.push({
		type:'custom', xAxisIndex:lx, yAxisIndex:ly, silent:true, z:2, encode:{x:[0,1], y:[2,3]}, data:bands,
		renderItem:function(params, api){
			return rectItem(api, bandColor(api.value(4), count), '#222');
		}
	});
});

var myChart = echarts.init(document.getElementById('chart'), null, {renderer:'canvas'});
myChart.setOption(option);
</script>
</body>
</html>
